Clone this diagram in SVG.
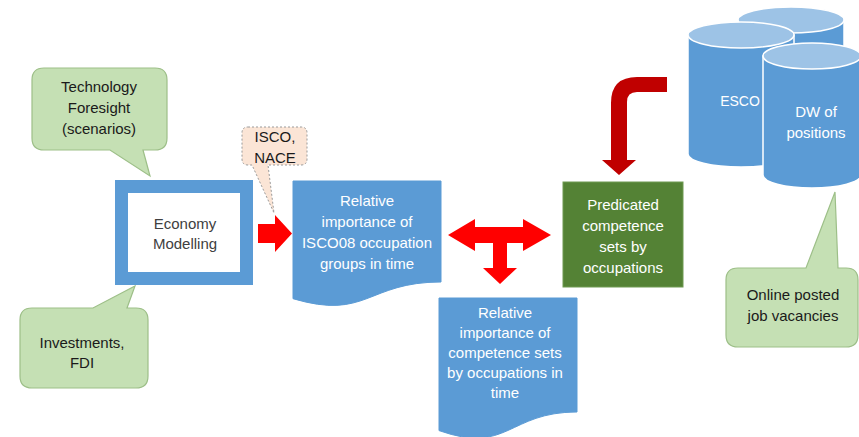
<svg xmlns="http://www.w3.org/2000/svg" width="859" height="437" viewBox="0 0 859 437">
<style>
text{font-family:"Liberation Sans",Arial,sans-serif;font-size:15px;text-anchor:middle}
.w{fill:#ffffff}
.k{fill:#1a1a1a}
.g{fill:#404040}
.callout{fill:#C5E0B4;stroke:#9DBF88;stroke-width:1.2}
.doc{fill:#5B9BD5;stroke:#5B9BD5;stroke-width:1}
.cylb{fill:#5B9BD5;stroke:#ffffff;stroke-width:1.5}
.cylt{fill:#9DC3E6;stroke:#ffffff;stroke-width:1.5}
.red{fill:#FF0000}
.dred{fill:#C00000}
</style>
<rect width="859" height="437" fill="#ffffff"/>

<g id="connectors">
  <path class="red" d="M258,224 H275 V215 L292,233.5 L275,252 V243 H258 Z"/>
  <path class="red" d="M448,235 L475,219 V227 H523 V219 L551,235 L523,251 V243 H507 V268 H517 L500,284 L483,268 H493 V243 H475 V251 Z"/>
  <path class="dred" d="M667,77 H637 Q611,77 611,103 V160 H602 L619,175 L636,160 H627 V102 Q627,92 637,92 H667 Z"/>
</g>

<g id="tech-foresight">
  <path class="callout" d="M44,68 H155 Q167,68 167,80 V138 Q167,150 155,150 H143 L150,176 L110,150 H44 Q32,150 32,138 V80 Q32,68 44,68 Z"/>
  <text class="k" x="99" y="92">Technology</text>
  <text class="k" x="99" y="113">Foresight</text>
  <text class="k" x="99" y="134">(scenarios)</text>
</g>

<g id="investments">
  <path class="callout" d="M32,308 H93 L135,286 L127,308 H136 Q148,308 148,320 V376 Q148,388 136,388 H32 Q20,388 20,376 V320 Q20,308 32,308 Z"/>
  <text class="k" x="82" y="348">Investments,</text>
  <text class="k" x="82" y="368">FDI</text>
</g>

<g id="economy-modelling">
  <rect x="121.5" y="186.5" width="125" height="92" fill="#ffffff" stroke="#5B9BD5" stroke-width="13"/>
  <text class="g" x="185" y="229">Economy</text>
  <text class="g" x="185" y="249">Modelling</text>
</g>

<g id="isco-nace">
  <path d="M248,127 H301 Q307,127 307,133 V159 Q307,165 301,165 H268 L274,213 L252,165 H248 Q242,165 242,159 V133 Q242,127 248,127 Z" fill="#FBE5D6" stroke="#9a9a9a" stroke-width="1" stroke-dasharray="2,2"/>
  <text class="k" x="275" y="142">ISCO,</text>
  <text class="k" x="275" y="163">NACE</text>
</g>

<g id="doc-isco08">
  <path class="doc" d="M293,181 H441 V282 C367,282 367,320.6 293,298.7 Z"/>
  <text class="w" x="367" y="206">Relative</text>
  <text class="w" x="367" y="227">importance of</text>
  <text class="w" x="367" y="248">ISCO08 occupation</text>
  <text class="w" x="367" y="269">groups in time</text>
</g>

<g id="doc-competence">
  <path class="doc" d="M439,298 H577 V412 C508,412 508,455 439,430.6 Z"/>
  <text class="w" x="505" y="318">Relative</text>
  <text class="w" x="505" y="338">importance of</text>
  <text class="w" x="505" y="358">competence sets</text>
  <text class="w" x="505" y="378">by occupations in</text>
  <text class="w" x="505" y="398">time</text>
</g>

<g id="predicated">
  <rect x="563" y="182" width="120" height="105" fill="#548235" stroke="#6F9A52" stroke-width="1"/>
  <text class="w" x="623" y="210">Predicated</text>
  <text class="w" x="623" y="231">competence</text>
  <text class="w" x="623" y="252">sets by</text>
  <text class="w" x="623" y="273">occupations</text>
</g>

<g id="db-back">
  <path class="cylb" d="M738,20 V150 A53,13 0 0 0 844,150 V20 Z"/>
  <ellipse class="cylt" cx="791" cy="20" rx="53" ry="13"/>
</g>

<g id="esco">
  <path class="cylb" d="M688,35 V154 A53,13 0 0 0 794,154 V35 Z"/>
  <ellipse class="cylt" cx="741" cy="35" rx="53" ry="13"/>
  <text class="w" x="740" y="106" style="font-size:14px">ESCO</text>
</g>

<g id="dw-positions">
  <path class="cylb" d="M763,56 V175 A49,13 0 0 0 861,175 V56 Z"/>
  <ellipse class="cylt" cx="812" cy="56" rx="49" ry="13"/>
  <text class="w" x="816" y="117">DW of</text>
  <text class="w" x="816" y="138">positions</text>
</g>

<g id="online-vacancies">
  <path class="callout" d="M738,268 H806 L835,192 L838,268 H846 Q858,268 858,280 V335 Q858,347 846,347 H738 Q726,347 726,335 V280 Q726,268 738,268 Z"/>
  <text class="k" x="793" y="300">Online posted</text>
  <text class="k" x="793" y="321">job vacancies</text>
</g>
</svg>
